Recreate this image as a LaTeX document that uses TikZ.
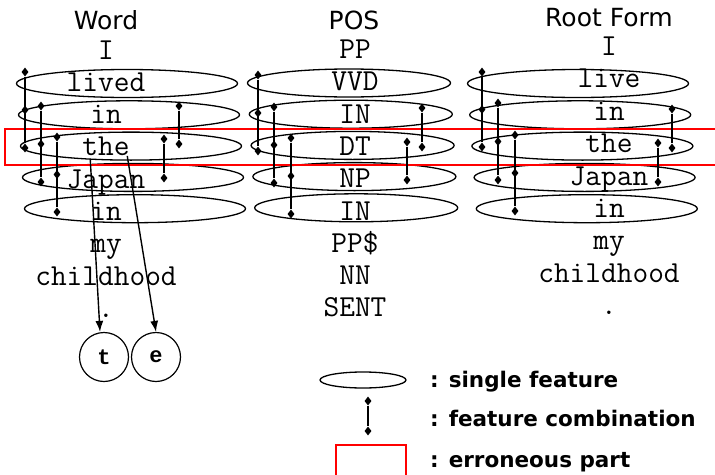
\documentclass[tikz,border=0pt]{standalone}
\usepackage{fontspec}
\setmainfont{DejaVu Sans}
\newfontfamily\boldmono{Liberation Mono}
\usepackage{tikz}
\usetikzlibrary{positioning,arrows.meta,shapes.geometric,calc}

\begin{document}
\begin{tikzpicture}[
  x=1pt, y=-1pt,
  head/.style={font=\fontsize{25}{28}\selectfont, inner sep=0pt, anchor=base},
  tok/.style={font=\fontsize{30.5}{34}\ttfamily, inner sep=0pt, anchor=base},
  feat/.style={draw, ellipse, line width=1.3pt, inner sep=0pt, minimum height=28pt},
  dia/.style={diamond, fill=black, inner sep=0pt, minimum width=7pt, minimum height=9pt},
  combo/.style={line width=2.2pt},
  err/.style={draw=red, line width=1.8pt},
  letter/.style={circle, draw, line width=1.2pt, minimum size=49pt, inner sep=0pt,
                 font=\fontsize{22}{26}\boldmono\bfseries},
  lgd/.style={font=\fontsize{21.5}{24}\selectfont\bfseries, inner sep=0pt, anchor=base west},
  arr/.style={-{Latex[length=11pt,width=8pt]}, line width=1.4pt},
]
\clip (0,0) rectangle (715,474);

\node[head] (hw) at (106,29) {Word};
\node[head] (hp) at (354,29) {POS};
\node[head] (hr) at (609,26) {Root Form};

\foreach \t [count=\i from 0] in {I,lived,in,the,Japan,in,my,childhood,.}
  \node[tok] (w\i) at (106,{59+32.3*\i}) {\t};
\foreach \t [count=\i from 0] in {PP,VVD,IN,DT,NP,IN,PP\$,NN,SENT}
  \node[tok] (p\i) at (355,{58.5+32.3*\i}) {\t};
\foreach \t [count=\i from 0] in {I,live,in,the,Japan,in,my,childhood,.}
  \node[tok] (r\i) at (609,{55.5+32.4*\i}) {\t};

\foreach \k in {1,...,5} {
  \node[feat, minimum width=221pt] (we\k) at ({127+2*(\k-1)},{83.5+31.3*(\k-1)}) {};
  \node[feat, minimum width=203pt] (pe\k) at ({349+1.8*(\k-1)},{83+31.2*(\k-1)}) {};
  \node[feat, minimum width=221pt] (re\k) at ({578+2.2*(\k-1)},{83.5+31.3*(\k-1)}) {};
}

\draw[err] (5,129) rectangle (730,165);

\foreach \n/\x/\ya/\yb in {wa/25/72/148, wb/41/106/182, wc/57/137/212,
    pa/258/75/151, pb/274/107/183, pc/291/138/214,
    ra/482/72/147, rb/498/103/180, rc/515/135/211} {
  \node[dia] (\n-t) at (\x,\ya) {};
  \node[dia] (\n-m) at (\x,{(\ya+\yb)/2}) {};
  \node[dia] (\n-b) at (\x,\yb) {};
  \draw[combo] (\n-t) -- (\n-b);
}
\foreach \n/\x/\ya/\yb in {wd/179/106/144, we/164/139/178,
    pd/422/108/147, pe/407/142/180, rd/672/109/148, re/658/143/182} {
  \node[dia] (\n-t) at (\x,\ya) {};
  \node[dia] (\n-b) at (\x,\yb) {};
  \draw[combo] (\n-t) -- (\n-b);
}

\node[letter] (ct) at (104,357) {t};
\node[letter] (ce) at (156,357) {e};
\coordinate (st) at ($(w3.base west)+(8,3)$);
\coordinate (se) at ($(w3.base west)+(45,0)$);
\coordinate (et) at ($(ct.north)+(-4,0)$);
\draw[arr] (st) -- (et);
\draw[arr] (se) -- (ce.north);

\node[draw, ellipse, line width=1.3pt, inner sep=0pt, minimum width=86pt, minimum height=16pt] (lg-e) at (363,380) {};
\node[dia] (lg-t) at (368,401) {};
\node[dia] (lg-b) at (368,431) {};
\draw[combo] (lg-t) -- (lg-b);
\draw[err] (336,445) rectangle (406,490);
\node[lgd] (l1) at (430,387) {: single feature};
\node[lgd] (l2) at (430,426) {: feature combination};
\node[lgd] (l3) at (430,467) {: erroneous part};
\end{tikzpicture}
\end{document}
